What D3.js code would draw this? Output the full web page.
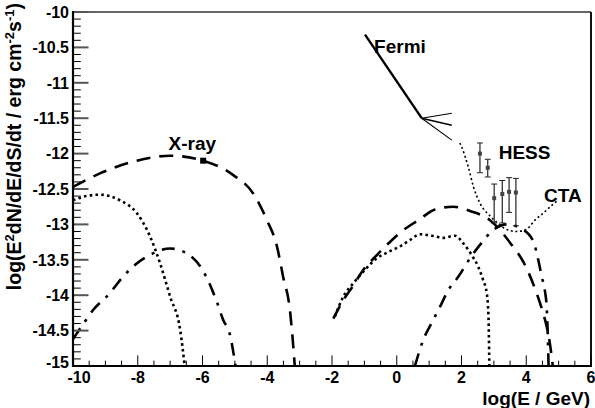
<!DOCTYPE html>
<html><head><meta charset="utf-8">
<script src="https://cdn.jsdelivr.net/npm/d3@7"></script>
<style>body{margin:0;background:#fff}svg{display:block}text{font-family:"Liberation Sans",Arial,sans-serif;font-weight:bold}</style>
</head><body>
<script>
// ---- data ----
const xTicks = [-10,-8,-6,-4,-2,0,2,4,6];
const yTicks = [-10,-10.5,-11,-11.5,-12,-12.5,-13,-13.5,-14,-14.5,-15];
const yTickLabels = ["-10","-10.5","-11","-11.5","-12","-12.5","-13","-13.5","-14","-14.5","-15"];

const synDashedX = [-10,-9.17,-8.03,-7.0,-5.98,-5.06,-4.44,-4.01,-3.70,-3.51,-3.30,-3.22,-3.15];
const synDashedY = [-12.47,-12.28,-12.1,-12.03,-12.1,-12.3,-12.56,-12.94,-13.31,-13.74,-14.21,-14.59,-15.0];
const synDottedX = [-10,-9.6,-9.17,-8.55,-8.03,-7.62,-7.31,-7.0,-6.69,-6.55];
const synDottedY = [-12.66,-12.6,-12.58,-12.66,-12.84,-13.17,-13.55,-14.02,-14.49,-15.0];
const synDashDotX = [-10,-9.63,-9.38,-8.86,-8.55,-8.08,-7.62,-7.0,-6.49,-6.03,-5.56,-5.36,-5.15,-4.98];
const synDashDotY = [-14.62,-14.37,-14.21,-13.97,-13.79,-13.57,-13.43,-13.34,-13.41,-13.62,-14.09,-14.35,-14.56,-15.0];

const icDashedX = [-1.96,-1.65,-1.34,-1.03,-0.67,-0.26,0.15,0.67,1.18,1.75,2.26,2.88,3.55,3.91,4.32,4.48,4.63,4.73,4.82];
const icDashedY = [-14.33,-14.07,-13.86,-13.64,-13.46,-13.27,-13.10,-12.94,-12.79,-12.75,-12.81,-12.94,-13.29,-13.53,-13.97,-14.19,-14.44,-14.68,-15.0];
const icDottedX = [-1.91,-1.65,-1.34,-0.98,-0.62,-0.26,0.10,0.41,0.72,1.08,1.44,1.80,2.06,2.31,2.52,2.67,2.78,2.83,2.86];
const icDottedY = [-14.30,-14.02,-13.83,-13.64,-13.48,-13.39,-13.31,-13.22,-13.14,-13.16,-13.19,-13.16,-13.27,-13.43,-13.60,-13.79,-13.97,-14.26,-15.0];
const ppDashDotX = [0.56,0.82,1.08,1.34,1.59,1.90,2.26,2.57,2.98,3.4,3.85,4.22,4.37,4.48,4.58,4.63,4.66,4.69];
const ppDashDotY = [-15.0,-14.63,-14.39,-14.16,-13.93,-13.74,-13.48,-13.29,-13.08,-13.0,-13.06,-13.24,-13.50,-13.74,-13.95,-14.16,-14.5,-15.0];

const ctaX = [1.95,2.0,2.21,2.37,2.57,2.88,3.09,3.34,3.70,4.01,4.27,4.53,4.79,4.95];
const ctaY = [-11.85,-11.9,-12.19,-12.47,-12.70,-12.88,-12.97,-13.06,-13.10,-13.07,-12.94,-12.84,-12.73,-12.67];

const fermiMainX = [-0.98,0.77];
const fermiMainY = [-10.32,-11.50];
const fermiFanX = [1.70,1.70,1.70];
const fermiFanY = [-11.43,-11.60,-11.81];

const hessX = [2.57,2.81,3.01,3.26,3.47,3.68];
const hessY = [-12.0,-12.2,-12.63,-12.57,-12.54,-12.55];
const hessHi = [-11.85,-12.08,-12.43,-12.38,-12.34,-12.35];
const hessLo = [-12.27,-12.33,-12.98,-12.98,-12.83,-13.02];

const xrayX = [-5.98];
const xrayY = [-12.1];

const labels = ["Fermi","X-ray","HESS","CTA"];
const labelX = [-0.7,-7.05,3.15,4.55];
const labelY = [-10.58,-11.95,-12.08,-12.68];

// ---- layout ----
const W=595,H=408, L=73,R=591,T=12,B=366;
const svg=d3.select("body").append("svg").attr("width",W).attr("height",H);
const x=d3.scaleLinear().domain([-10,6]).range([L,R]);
const y=d3.scaleLinear().domain([-15,-10]).range([B,T]);

svg.append("clipPath").attr("id","c").append("rect").attr("x",L).attr("y",T-2).attr("width",R-L).attr("height",B-T+2);
const g=svg.append("g").attr("clip-path","url(#c)");

const line=d3.line().x(d=>x(d[0])).y(d=>y(d[1])).curve(d3.curveMonotoneX);
const zip=(a,b)=>a.map((v,i)=>[v,b[i]]);
function curve(xs,ys,dash,w,col){
  g.append("path").attr("d",line(zip(xs,ys))).attr("fill","none").attr("stroke",col||"#000")
   .attr("stroke-width",w).attr("stroke-dasharray",dash);
}
const DASH="14 9", DOT="2.6 3.2", DASHDOT="13 8 3 8";
curve(synDashedX,synDashedY,DASH,2.6);
curve(synDottedX,synDottedY,DOT,2.6);
curve(synDashDotX,synDashDotY,DASHDOT,2.6);
curve(icDashedX,icDashedY,DASH,2.6);
curve(icDottedX,icDottedY,DOT,2.6);
curve(ppDashDotX,ppDashDotY,DASHDOT,2.6);
curve(ctaX,ctaY,"2 2.6",1.6);

// Fermi
const lin=d3.line().x(d=>x(d[0])).y(d=>y(d[1]));
g.append("path").attr("d",lin(zip(fermiMainX,fermiMainY))).attr("stroke","#000").attr("stroke-width",2.4).attr("fill","none");
fermiFanX.forEach((fx,i)=>{
  g.append("path").attr("d",lin([[fermiMainX[1],fermiMainY[1]],[fx,fermiFanY[i]]]))
   .attr("stroke","#000").attr("stroke-width",i==1?1.6:1.1).attr("fill","none");
});

// HESS points
hessX.forEach((hx,i)=>{
  const px=x(hx);
  g.append("line").attr("x1",px).attr("x2",px).attr("y1",y(hessHi[i])).attr("y2",y(hessLo[i])).attr("stroke","#333").attr("stroke-width",1.3);
  [hessHi[i],hessLo[i]].forEach(v=>g.append("line").attr("x1",px-3).attr("x2",px+3).attr("y1",y(v)).attr("y2",y(v)).attr("stroke","#222").attr("stroke-width",1));
  g.append("rect").attr("x",px-2).attr("y",y(hessY[i])-2).attr("width",4).attr("height",4).attr("fill","#444");
});
// X-ray point
xrayX.forEach((xx,i)=>g.append("rect").attr("x",x(xx)-3).attr("y",y(xrayY[i])-3).attr("width",6).attr("height",6).attr("fill","#000"));

// labels
labels.forEach((t,i)=>svg.append("text").attr("x",x(labelX[i])).attr("y",y(labelY[i])).attr("font-size",19).text(t));

// frame
svg.append("line").attr("x1",L).attr("x2",R).attr("y1",T).attr("y2",T).attr("stroke","#666").attr("stroke-width",2);
svg.append("line").attr("x1",R).attr("x2",R).attr("y1",T).attr("y2",B).attr("stroke","#111").attr("stroke-width",2);

// ticks
const ax=svg.append("g");
for(let k=0;k<=50;k++){
  const vv=-15+k*0.1;
  const major=k%5===0;
  ax.append("line").attr("x1",L).attr("x2",L+(major?15.5:7.8)).attr("y1",y(vv)).attr("y2",y(vv)).attr("stroke",major?"#555":"#000").attr("stroke-width",major?2:1);
}
for(let k=0;k<=32;k++){
  const v=-10+k*0.5;
  const major=k%4===0;
  ax.append("line").attr("x1",x(v)).attr("x2",x(v)).attr("y1",B).attr("y2",B-(major?10.6:5.3)).attr("stroke","#000").attr("stroke-width",1);
}
ax.append("line").attr("x1",L).attr("x2",L).attr("y1",T-1).attr("y2",B+1).attr("stroke","#000").attr("stroke-width",2.2);
ax.append("line").attr("x1",L-1).attr("x2",R+1).attr("y1",B).attr("y2",B).attr("stroke","#000").attr("stroke-width",2.2);

yTicks.forEach((v,i)=>svg.append("text").attr("x",L-4).attr("y",y(v)).attr("dy",i===yTicks.length-1?"0.1em":"0.36em").attr("text-anchor","end").attr("font-size",16).text(yTickLabels[i]));
xTicks.forEach((v,i)=>svg.append("text").attr("x",x(v)+(i===0?6:0)).attr("y",B+17).attr("text-anchor","middle").attr("font-size",16).text(v));

svg.append("text").attr("x",590).attr("y",405).attr("text-anchor","end").attr("font-size",19).text("log(E / GeV)");
const yt=svg.append("text").attr("transform","translate(21,3) rotate(-90)").attr("text-anchor","end").attr("font-size",19.5);
yt.append("tspan").text("log(E");
yt.append("tspan").attr("font-size",13).attr("dy",-7).text("2");
yt.append("tspan").attr("dy",7).text("dN/dE/dS/dt / erg cm");
yt.append("tspan").attr("font-size",13).attr("dy",-7).text("-2");
yt.append("tspan").attr("dy",7).text("s");
yt.append("tspan").attr("font-size",13).attr("dy",-7).text("-1");
yt.append("tspan").attr("dy",7).text(")");
</script>
</body></html>
